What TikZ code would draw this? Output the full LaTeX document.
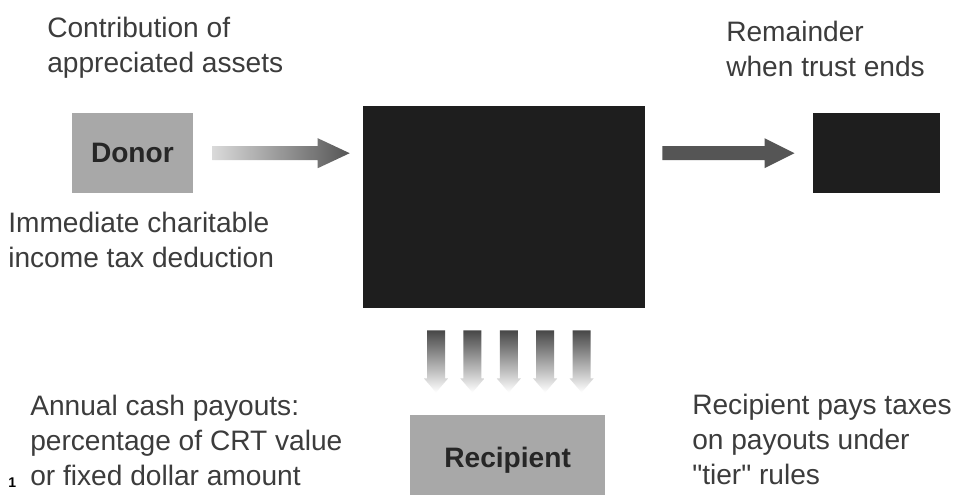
\documentclass[tikz,border=0pt]{standalone}
\usepackage{fontspec}
\setmainfont{Liberation Sans}[Ligatures=TeXOff]
\usetikzlibrary{positioning,calc}
\definecolor{BoxGray}{RGB}{168,168,168}
\definecolor{TrustBlack}{RGB}{30,30,30}
\definecolor{LabelGray}{RGB}{60,60,60}
\definecolor{ArrowDark}{RGB}{85,85,85}
\definecolor{ArrowLight}{RGB}{218,218,218}

\begin{document}
\begin{tikzpicture}[font=\fontsize{20}{25}\selectfont,
  every node/.style={align=left, text=LabelGray},
  box/.style={fill=BoxGray, text=black!85, font=\fontsize{20}{25}\selectfont\bfseries},
  darkbox/.style={fill=TrustBlack},
  lbl/.style={anchor=west, inner sep=0pt}]
  \path[use as bounding box, fill=white] (0,0) rectangle (23.9,-12.35);

  % boxes
  \node[box, minimum width=3.03cm, minimum height=2cm] (donor) at (3.31,-3.83) {Donor};
  \node[darkbox, minimum width=7.05cm, minimum height=5.05cm] (trust) at (12.6,-5.18) {};
  \node[darkbox, minimum width=3.18cm, minimum height=2cm] (rem) at (21.91,-3.83) {};
  \node[box, minimum width=4.88cm, minimum height=2.25cm] (recip) at (12.69,-11.5) {Recipient};

  % labels
  \node[lbl] (contrib) at (1.175,-1.19) {Contribution of\\appreciated assets};
  \node[lbl] (deduct) at (0.2,-5.99) {Immediate charitable\\income tax deduction};
  \node[lbl] (remain) at (18.15,-1.22) {Remainder\\when trust ends};
  \node[lbl] (payout) at (0.75,-11.01) {Annual cash payouts:\\percentage of CRT value\\or fixed dollar amount};
  \node[lbl] (taxes) at (17.3,-10.99) {Recipient pays taxes\\on payouts under\\"tier" rules};
  \node[anchor=north west, inner sep=0pt, text=black, font=\fontsize{10}{12}\selectfont\bfseries] (pg) at (0.2,-11.95) {1};

  % donor -> trust
  \coordinate (t1) at ($(donor.east -| trust.west)+(-0.325,0)$);
  \shade[left color=ArrowLight, right color=ArrowDark]
    ($(donor.east)+(0.475,0.175)$) -- ($(t1)+(-0.8,0.175)$) -- ++(0,0.2) -- (t1)
    -- ($(t1)+(-0.8,-0.375)$) -- ++(0,0.2) -- ($(donor.east)+(0.475,-0.175)$) -- cycle;

  % trust -> remainder
  \coordinate (t2) at ($(rem.west)+(-0.45,0)$);
  \fill[ArrowDark]
    ($(rem.west -| trust.east)+(0.425,0.175)$) -- ($(t2)+(-0.75,0.175)$) -- ++(0,0.2) -- (t2)
    -- ($(t2)+(-0.75,-0.375)$) -- ++(0,0.2) -- ($(rem.west -| trust.east)+(0.425,-0.175)$) -- cycle;

  % payouts
  \foreach \i in {-2,...,2} {
    \coordinate (d) at ($(trust.south)+(\i*0.91+0.12,-0.55)$);
    \shade[top color=black!72, middle color=black!22, bottom color=white]
      ($(d)+(-0.225,0)$) -- ($(d)+(0.225,0)$) -- ($(d)+(0.225,-1.2)$) -- ($(d)+(0.3,-1.2)$)
      -- ($(d)+(0,-1.55)$) -- ($(d)+(-0.3,-1.2)$) -- ($(d)+(-0.225,-1.2)$) -- cycle;
  }
\end{tikzpicture}
\end{document}
